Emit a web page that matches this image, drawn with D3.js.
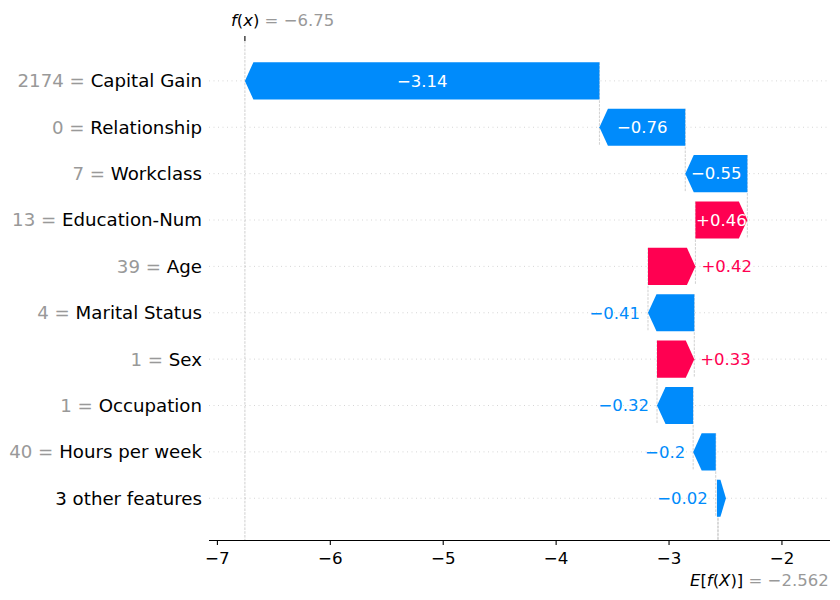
<!DOCTYPE html>
<html>
<head>
<meta charset="utf-8">
<script src="https://cdn.jsdelivr.net/npm/d3@7"></script>
<style>
  body { margin: 0; background: #fff; }
  text { font-family: "DejaVu Sans", sans-serif; }
</style>
</head>
<body>
<svg id="chart"></svg>
<script>
const width = 840;
const height = 600;

// data, top row first
const featureNames = ["Capital Gain", "Relationship", "Workclass", "Education-Num", "Age",
  "Marital Status", "Sex", "Occupation", "Hours per week", "3 other features"];
const featureValues = ["2174", "0", "7", "13", "39", "4", "1", "1", "40", null];
const shapValues = [-3.14, -0.76, -0.55, 0.46, 0.42, -0.41, 0.33, -0.32, -0.2, -0.02];
const baseValue = -2.562;
const xTicks = [-7, -6, -5, -4, -3, -2];

const blue = "#008bfb";
const red = "#ff0051";
const grey = "#999999";

const svg = d3.select("#chart").attr("width", width).attr("height", height);

const axLeft = 209, axRight = 830, axTop = 41, axBottom = 540;
const x = d3.scaleLinear().domain([-7.07, -1.57]).range([axLeft, axRight]);
const n = featureNames.length;
// row index 0 = bottom row
const y = d3.scaleLinear().domain([-0.9, n - 1 + 0.86]).range([axBottom, axTop]);
const rowY = (i) => y(n - 1 - i);

const fx = baseValue + d3.sum(shapValues);
const fmt = (v, p) => d3.format("." + p + "f")(v).replace("-", "\u2212");

// build waterfall from the bottom up
const bars = [];
let loc = baseValue;
for (let i = n - 1; i >= 0; i--) {
  bars.push({ i: i, start: loc, end: loc + shapValues[i], v: shapValues[i] });
  loc += shapValues[i];
}
bars.reverse();

// horizontal dotted row lines
svg.append("g").selectAll("line").data(bars).enter().append("line")
  .attr("x1", axLeft).attr("x2", axRight)
  .attr("y1", (d) => rowY(d.i)).attr("y2", (d) => rowY(d.i))
  .attr("stroke", "#cccccc").attr("stroke-width", 0.8)
  .attr("stroke-dasharray", "1,3.5");

svg.append("clipPath").attr("id", "axclip")
  .append("rect").attr("x", axLeft).attr("y", axTop)
  .attr("width", axRight - axLeft).attr("height", axBottom - axTop);

// dashed connectors
const step = Math.abs(y(1) - y(0));
svg.append("g").attr("clip-path", "url(#axclip)")
  .selectAll("line").data(bars).enter().append("line")
  .attr("x1", (d) => x(d.start)).attr("x2", (d) => x(d.start))
  .attr("y1", (d) => rowY(d.i) - 0.4 * step)
  .attr("y2", (d) => rowY(d.i) + 1.4 * step)
  .attr("stroke", "#bbbbbb").attr("stroke-width", 0.7)
  .attr("stroke-dasharray", "2.6,1.2");

// f(x) line and E[f(X)] line
svg.append("line")
  .attr("x1", x(fx)).attr("x2", x(fx)).attr("y1", axTop).attr("y2", axBottom)
  .attr("stroke", "#bbbbbb").attr("stroke-width", 0.7).attr("stroke-dasharray", "2.6,1.2");
svg.append("line")
  .attr("x1", x(baseValue)).attr("x2", x(baseValue))
  .attr("y1", axBottom).attr("y2", axBottom - (axBottom - axTop) / n)
  .attr("stroke", "#bbbbbb").attr("stroke-width", 0.7).attr("stroke-dasharray", "2.6,1.2");

// arrows
const barH = 0.8 * step;
const headLen = 8.5;
function arrowPoints(d) {
  const a = x(d.start), b = x(d.end);
  const cy = rowY(d.i), t = cy - barH / 2, bt = cy + barH / 2;
  const w = Math.abs(b - a);
  if (w < headLen) {
    // tiny bar: small stub with a pointed right side
    const x0 = Math.min(a, b) + 1.2;
    return [[x0, t], [x0 + 3.5, t], [x0 + 9, cy], [x0 + 3.5, bt], [x0, bt]];
  }
  const dir = b > a ? 1 : -1;
  const neck = b - dir * headLen;
  return [[a, t], [neck, t], [b, cy], [neck, bt], [a, bt]];
}

svg.append("g").selectAll("polygon").data(bars).enter().append("polygon")
  .attr("points", (d) => arrowPoints(d).map((p) => p.join(",")).join(" "))
  .attr("fill", (d) => (d.v >= 0 ? red : blue));

// value labels
const labels = svg.append("g").selectAll("text").data(bars).enter().append("text")
  .attr("y", (d) => rowY(d.i))
  .attr("dy", "0.35em")
  .attr("font-size", "16.5px")
  .text((d) => (d.v >= 0 ? "+" : "\u2212") + d3.format("")(Math.abs(d.v)));

labels.each(function (d) {
  const tw = this.getComputedTextLength();
  const bw = Math.abs(x(d.end) - x(d.start));
  const el = d3.select(this);
  if (tw < bw) {
    el.attr("x", (x(d.start) + x(d.end)) / 2).attr("text-anchor", "middle").attr("fill", "#fff");
  } else if (d.v >= 0) {
    el.attr("x", x(d.end) + 6).attr("text-anchor", "start").attr("fill", red);
  } else {
    el.attr("x", x(d.end) - 8).attr("text-anchor", "end").attr("fill", blue);
  }
});

// y labels
const ylab = svg.append("g").selectAll("text").data(bars).enter().append("text")
  .attr("x", 202).attr("y", (d) => rowY(d.i)).attr("dy", "0.35em")
  .attr("text-anchor", "end").attr("font-size", "18.2px");
ylab.filter((d) => featureValues[d.i] !== null).append("tspan")
  .attr("fill", grey).text((d) => featureValues[d.i] + " = ");
ylab.append("tspan").attr("fill", "#000").text((d) => featureNames[d.i]);

// x axis
const xAxis = d3.axisBottom(x).tickValues(xTicks).tickSize(5)
  .tickFormat((d) => fmt(d, 0));
const gx = svg.append("g").attr("transform", `translate(0,${axBottom})`).call(xAxis);
gx.select(".domain").attr("stroke", "#000").attr("stroke-width", 1.1).attr("d", `M${axLeft},0.5H${axRight}`);
gx.selectAll(".tick line").attr("stroke", "#000").attr("stroke-width", 1.1);
gx.selectAll(".tick text").attr("font-size", "16.7px").attr("fill", "#000")
  .attr("font-family", "DejaVu Sans, sans-serif")
  .attr("y", 24.3).attr("dy", null);

// top f(x) tick
svg.append("line")
  .attr("x1", x(fx)).attr("x2", x(fx)).attr("y1", axTop).attr("y2", axTop - 5)
  .attr("stroke", "#000").attr("stroke-width", 1.1);

const fxLab = svg.append("text").attr("x", x(fx) - 14).attr("y", 26).attr("font-size", "16.5px");
fxLab.append("tspan").attr("font-style", "italic").text("f");
fxLab.append("tspan").text("(");
fxLab.append("tspan").attr("font-style", "italic").text("x");
fxLab.append("tspan").text(")");
fxLab.append("tspan").attr("fill", grey).text(" = " + fmt(fx, 2));

const efLab = svg.append("text").attr("x", x(baseValue) - 28).attr("y", 586).attr("font-size", "16.5px");
efLab.append("tspan").attr("font-style", "italic").text("E");
efLab.append("tspan").text("[");
efLab.append("tspan").attr("font-style", "italic").text("f");
efLab.append("tspan").text("(");
efLab.append("tspan").attr("font-style", "italic").text("X");
efLab.append("tspan").text(")]");
efLab.append("tspan").attr("fill", grey).text(" = " + fmt(baseValue, 3));
</script>
</body>
</html>
